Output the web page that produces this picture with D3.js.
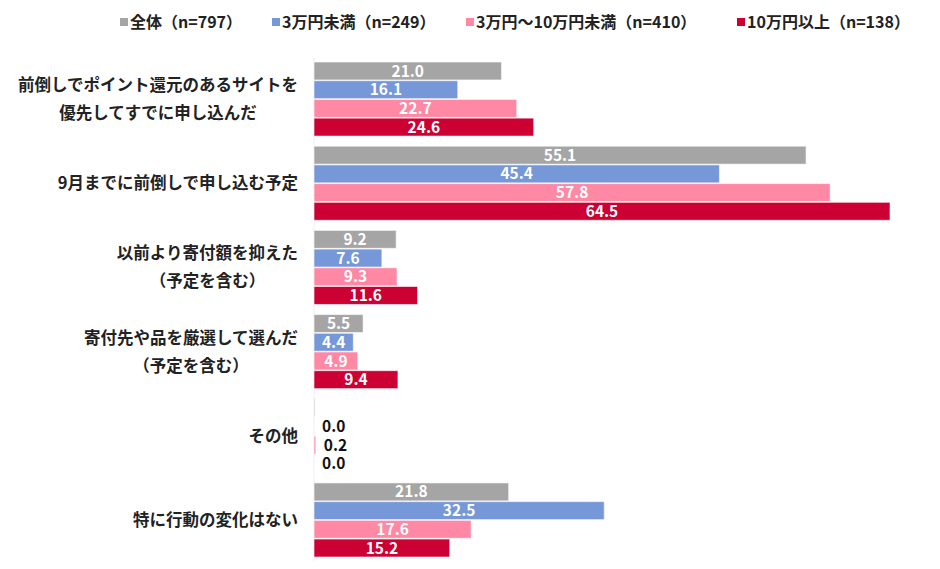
<!DOCTYPE html>
<html>
<head>
<meta charset="utf-8">
<script src="https://cdn.jsdelivr.net/npm/d3@7"></script>
<style>
  body { margin: 0; background: #fff; }
  svg text { font-family: "Noto Sans CJK JP", "Noto Sans", sans-serif; }
</style>
</head>
<body>
<div id="chart"></div>
<script>
// categories (each label split into lines)
const categories = [
  ["前倒しでポイント還元のあるサイトを", "優先してすでに申し込んだ"],
  ["9月までに前倒しで申し込む予定"],
  ["以前より寄付額を抑えた", "（予定を含む）"],
  ["寄付先や品を厳選して選んだ", "（予定を含む）"],
  ["その他"],
  ["特に行動の変化はない"]
];
const seriesNames = ["全体（n=797）", "3万円未満（n=249）", "3万円～10万円未満（n=410）", "10万円以上（n=138）"];
const colors = ["#a5a5a5", "#7698d8", "#ff88a4", "#cc0033"];

const allValues = [21.0, 55.1, 9.2, 5.5, 0.1, 21.8];
const under3Values = [16.1, 45.4, 7.6, 4.4, 0.0, 32.5];
const mid3to10Values = [22.7, 57.8, 9.3, 4.9, 0.2, 17.6];
const over10Values = [24.6, 64.5, 11.6, 9.4, 0.0, 15.2];
const seriesValues = [allValues, under3Values, mid3to10Values, over10Values];

const width = 940, height = 569;
const margin = {top: 62, right: 50, bottom: 12, left: 314};

const svg = d3.select("#chart").append("svg")
  .attr("width", width)
  .attr("height", height);

const x = d3.scaleLinear()
  .domain([0, 64.5])
  .range([margin.left, 890]);

const y0 = d3.scaleBand()
  .domain(d3.range(categories.length))
  .range([margin.top, height - margin.bottom])
  .paddingInner(0.12)
  .paddingOuter(0.0);

const y1 = d3.scaleBand()
  .domain(d3.range(seriesNames.length))
  .range([0, y0.bandwidth()])
  .paddingInner(0.04);

// faint axis line
svg.append("line")
  .attr("x1", x(0)).attr("x2", x(0))
  .attr("y1", margin.top - 4).attr("y2", height - margin.bottom + 4)
  .attr("stroke", "#eeeeee");

const groups = svg.selectAll(".group")
  .data(categories)
  .enter().append("g")
  .attr("class", "group")
  .attr("transform", (d, i) => `translate(0,${y0(i)})`);

groups.each(function(cat, ci) {
  const g = d3.select(this);
  seriesValues.forEach((vals, si) => {
    const v = vals[ci];
    g.append("rect")
      .attr("x", x(0))
      .attr("y", y1(si))
      .attr("width", x(v) - x(0))
      .attr("height", y1.bandwidth())
      .attr("fill", colors[si])
      .attr("stroke", "rgba(255,255,255,0.6)")
      .attr("stroke-width", 1);

    const small = v < 1;
    // 全体's tiny label is white on white in the original, so skip it
    if (small && si === 0) return;
    g.append("text")
      .attr("x", small ? x(v) + 8 : (x(0) + x(v)) / 2)
      .attr("y", y1(si) + y1.bandwidth() / 2)
      .attr("dy", "0.36em")
      .attr("text-anchor", small ? "start" : "middle")
      .attr("font-size", 15.5)
      .attr("font-weight", "bold")
      .attr("fill", small ? "#111" : "#fff")
      .text(v.toFixed(1));
  });
});

// category labels: centered block, right edge at 298
const labelRight = 298;
const lineH = 28;
groups.each(function(lines, ci) {
  const g = d3.select(this);
  const cy = y0.bandwidth() / 2;
  const t = g.append("g");
  const texts = lines.map((ln, li) => t.append("text")
    .attr("y", cy + (li - (lines.length - 1) / 2) * lineH)
    .attr("dy", "0.36em")
    .attr("text-anchor", "middle")
    .attr("font-size", 16.5)
    .attr("font-weight", "bold")
    .attr("fill", "#222")
    .text(ln));
  const maxW = d3.max(texts, tx => tx.node().getComputedTextLength());
  texts.forEach(tx => tx.attr("x", labelRight - maxW / 2));
});

// legend
const legendX = [120, 272, 466, 737];
const legend = svg.append("g");
seriesNames.forEach((name, i) => {
  legend.append("rect")
    .attr("x", legendX[i])
    .attr("y", 18)
    .attr("width", 8)
    .attr("height", 8)
    .attr("fill", colors[i]);
  legend.append("text")
    .attr("x", legendX[i] + 10)
    .attr("y", 22)
    .attr("dy", "0.36em")
    .attr("font-size", 16)
    .attr("font-weight", "bold")
    .attr("fill", "#222")
    .text(name);
});
</script>
</body>
</html>
